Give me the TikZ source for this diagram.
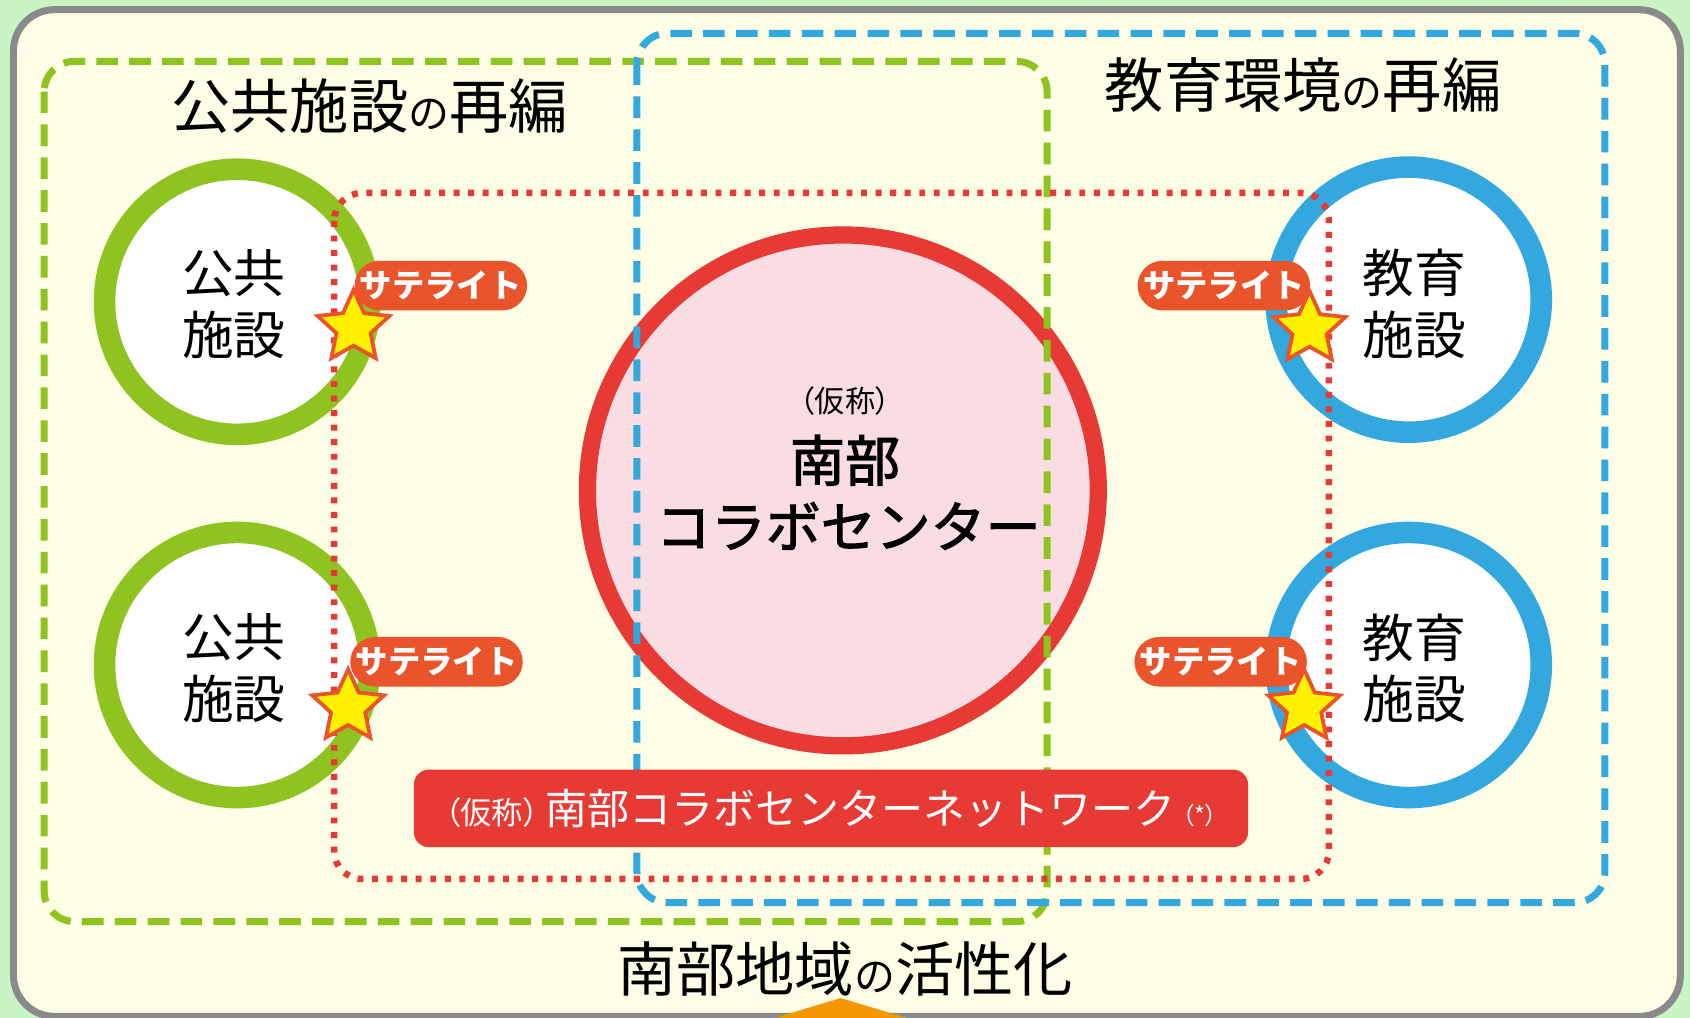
\documentclass[tikz,border=0pt]{standalone}
\usepackage{fontspec}
\setmainfont{Noto Sans CJK JP}
\newfontfamily\jpp[RawFeature=+palt]{Noto Sans CJK JP}
\newfontfamily\jpm[FakeBold=2]{Noto Sans CJK JP}
\usetikzlibrary{shapes.geometric}
\definecolor{bggreen}{HTML}{C9F5C5}
\definecolor{cream}{HTML}{FEFDE6}
\definecolor{framegray}{HTML}{8A8A8A}
\definecolor{pgreen}{HTML}{8FC31F}
\definecolor{pblue}{HTML}{32A8DF}
\definecolor{pred}{HTML}{E83A34}
\definecolor{ppink}{HTML}{FADCE3}
\definecolor{porange}{HTML}{E9542B}
\definecolor{pyellow}{HTML}{FFF100}
\definecolor{parrow}{HTML}{F39800}
\begin{document}
\begin{tikzpicture}[x=1pt,y=-1pt,
  ringg/.style={circle, draw=pgreen, line width=20pt, fill=white, minimum size=246pt, inner sep=0pt},
  ringb/.style={ringg, draw=pblue},
  ringr/.style={circle, draw=pred, line width=16pt, fill=ppink, minimum size=474pt, inner sep=0pt},
  ringtxt/.style={align=center, font=\fontsize{48}{57}\selectfont, inner sep=0pt},
  grpbox/.style={line width=6.5pt, dash pattern=on 20pt off 10.5pt, rounded corners=28pt},
  netdot/.style={draw=pred, line width=6pt, dash pattern=on 5.5pt off 8pt, rounded corners=26pt},
  netbox/.style={fill=pred, rounded corners=14pt, minimum width=774pt, minimum height=72pt, inner sep=0pt, text=white},
  pill/.style={fill=porange, rounded corners=23pt, minimum width=160pt, minimum height=46pt, inner sep=0pt,
    text=white, font=\bfseries\fontsize{30}{30}\selectfont},
  starnode/.style={star, star points=5, star point ratio=2.1, fill=pyellow, draw=porange, line width=3.5pt,
    minimum size=70pt, inner sep=0pt},
  ttl/.style={font=\fontsize{55}{60}\selectfont, inner sep=0pt},
  hubtxt/.style={font=\jpm\fontsize{51}{51}\selectfont, inner sep=0pt}
]
\useasboundingbox (0,0) rectangle (1568,944.5);
\fill[bggreen] (0,0) rectangle (1568,944.5);
\draw[framegray, line width=6.5pt, fill=cream, rounded corners=38pt] (12.5,9) rectangle (1559,943);
\fill[parrow] (707,948) -- (780,926) -- (853,948) -- cycle;

% rings
\node[ringg] (pg1) at (220,280) {};
\node[ringg] (pg2) at (220,617) {};
\node[ringb] (eb1) at (1307,278) {};
\node[ringb] (eb2) at (1307,617) {};
\node[ringr] (hub) at (782,455) {};
\node[ringtxt] (pg1t) at (217,282) {公共\\施設};
\node[ringtxt] (pg2t) at (217,620) {公共\\施設};
\node[ringtxt] (eb1t) at (1312,282) {教育\\施設};
\node[ringtxt] (eb2t) at (1312,620) {教育\\施設};

% group frames
\draw[grpbox, draw=pgreen] (41,57) rectangle (971.5,855);
\draw[grpbox, draw=pblue] (591,31) rectangle (1489,837.5);
\draw[netdot] (310,179) rectangle (1233,815.5);

% network box
\node[netbox] (net) at (771,750) {{\jpp\fontsize{29}{29}\selectfont （仮称）}\hspace{6pt}{\fontsize{39}{39}\selectfont 南部コラボセンターネットワーク}\hspace{6pt}{\jpp\fontsize{22}{22}\selectfont （*）}};

% satellites
\node[pill] (s1) at (409,265) {サテライト};
\node[pill] (s2) at (405,614) {サテライト};
\node[pill] (s3) at (1135.5,265) {サテライト};
\node[pill] (s4) at (1132.5,614) {サテライト};
\node[starnode] (st1) at (328,304) {};
\node[starnode] (st2) at (323,656) {};
\node[starnode] (st3) at (1215,305) {};
\node[starnode] (st4) at (1210,656) {};

% hub text
\node[font=\jpp\fontsize{28}{28}\selectfont, inner sep=0pt] (kasho) at (784,372) {（仮称）};
\node[hubtxt] (nanbu) at (784,427) {南部};
\node[hubtxt] (collab) at (787,488) {コラボセンター};

% titles
\node[ttl] (t1) at (343,98) {公共施設{\fontsize{38}{38}\selectfont の}再編};
\node[ttl] (t2) at (1209,79) {教育環境{\fontsize{38}{38}\selectfont の}再編};
\node[ttl] (t3) at (784,899) {南部地域{\fontsize{38}{38}\selectfont の}活性化};
\end{tikzpicture}
\end{document}
